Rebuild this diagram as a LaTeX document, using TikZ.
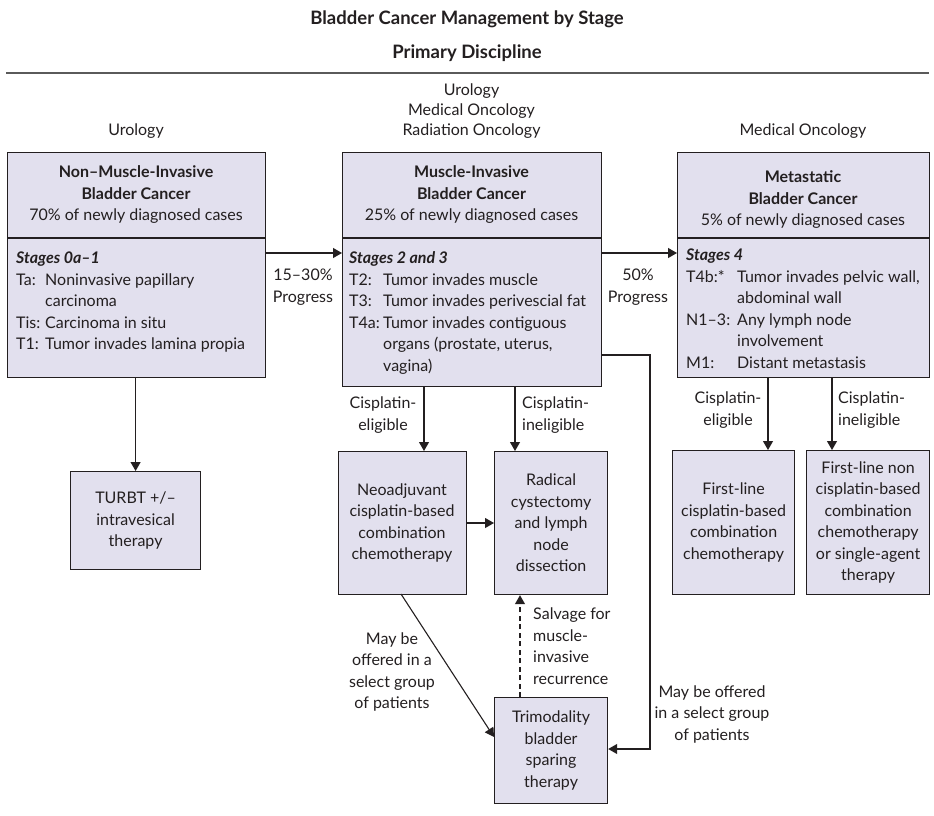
\documentclass[tikz,border=0pt]{standalone}
\usepackage{fontspec}
\setmainfont{Lato}
\usetikzlibrary{arrows.meta}
\definecolor{boxfill}{RGB}{226,224,238}
\definecolor{ink}{RGB}{35,31,32}
\definecolor{rulegray}{RGB}{90,90,90}
\newcommand{\bodyfont}{\fontsize{16}{21.5}\selectfont}
\newcommand{\headfont}{\fontsize{18.5}{21}\selectfont\bfseries}
\tikzset{
  txt/.style={inner sep=0pt, text=ink, font=\bodyfont, align=center},
  ltxt/.style={inner sep=0pt, text=ink, font=\bodyfont, align=left},
  panel/.style={draw=ink, line width=1.2pt, fill=boxfill, inner sep=0pt, anchor=north west},
  conn/.style={draw=ink, line width=1.1pt},
  arr/.style={conn, -{Triangle[length=9pt,width=10pt]}},
}
\begin{document}
\begin{tikzpicture}[x=1pt,y=-1pt]
\useasboundingbox (0,0) rectangle (934,816);

% heading and discipline row
\node[txt, font=\headfont] (title) at (467,19) {Bladder Cancer Management by Stage};
\node[txt, font=\headfont] (disc) at (467,53) {Primary Discipline};
\draw[rulegray, line width=1.5pt] (6,73) -- (929,73);
\node[txt] (uro1) at (136,131) {Urology};
\node[txt, font=\fontsize{16}{20}\selectfont] (uro2) at (471.5,111) {Urology\\Medical Oncology\\Radiation Oncology};
\node[txt] (medonc) at (803,131) {Medical Oncology};

% three stage panels
\node[panel, minimum width=258, minimum height=225] (nmibc) at (7,152) {};
\node[panel, minimum width=259, minimum height=234] (mibc) at (342,152) {};
\node[panel, minimum width=252, minimum height=225] (met) at (677,152) {};
\draw[ink, line width=1.2pt] (nmibc.west |- 0,238) -- (nmibc.east |- 0,238);
\draw[ink, line width=1.2pt] (mibc.west |- 0,238) -- (mibc.east |- 0,238);
\draw[ink, line width=1.2pt] (met.west |- 0,238) -- (met.east |- 0,238);

\node[txt] (nmibch) at (136,195) {\textbf{Non–Muscle-Invasive}\\\textbf{Bladder Cancer}\\70\% of newly diagnosed cases};
\node[txt] (mibch) at (471.5,195) {\textbf{Muscle-Invasive}\\\textbf{Bladder Cancer}\\25\% of newly diagnosed cases};
\node[txt] (meth) at (803,200) {\textbf{Metastatic}\\\textbf{Bladder Cancer}\\5\% of newly diagnosed cases};

\node[ltxt, anchor=north west] (nmibcs) at (16,248.5) {%
\begin{tabular}{@{}p{29pt}@{}l@{}}
\multicolumn{2}{@{}l@{}}{\textbf{\itshape Stages 0a–1}}\\
Ta: & Noninvasive papillary\\
 & carcinoma\\
Tis: & Carcinoma in situ\\
T1: & Tumor invades lamina propia
\end{tabular}};
\node[ltxt, anchor=north west] (mibcs) at (349,248.5) {%
\begin{tabular}{@{}p{34pt}@{}l@{}}
\multicolumn{2}{@{}l@{}}{\textbf{\itshape Stages 2 and 3}}\\
T2: & Tumor invades muscle\\
T3: & Tumor invades perivescial fat\\
T4a: & Tumor invades contiguous\\
 & organs (prostate, uterus,\\
 & vagina)
\end{tabular}};
\node[ltxt, anchor=north west] (mets) at (686,245.5) {%
\begin{tabular}{@{}p{51pt}@{}l@{}}
\multicolumn{2}{@{}l@{}}{\textbf{\itshape Stages 4}}\\
T4b:* & Tumor invades pelvic wall,\\
 & abdominal wall\\
N1–3: & Any lymph node\\
 & involvement\\
M1: & Distant metastasis
\end{tabular}};

% progression arrows
\draw[arr] (nmibc.east |- 0,253) -- (mibc.west |- 0,253);
\node[txt] (prog1) at (303,287) {15–30\%\\Progress};
\draw[arr] (mibc.east |- 0,253) -- (met.west |- 0,253);
\node[txt] (prog2) at (638,287) {50\%\\Progress};

% treatment boxes
\node[panel, minimum width=130, minimum height=98] (turbt) at (70,471) {};
\node[txt] (turbtt) at (turbt.center) {TURBT +/–\\intravesical\\therapy};
\node[panel, minimum width=128, minimum height=143] (neo) at (338,451) {};
\node[txt] (neot) at (402,523) {Neoadjuvant\\cisplatin-based\\combination\\chemotherapy};
\node[panel, minimum width=113, minimum height=143] (rad) at (494,451) {};
\node[txt] (radt) at (rad.center) {Radical\\cystectomy\\and lymph\\node\\dissection};
\node[panel, minimum width=113, minimum height=106] (tri) at (494,697) {};
\node[txt] (trit) at (tri.center) {Trimodality\\bladder\\sparing\\therapy};
\node[panel, minimum width=122, minimum height=144] (fl) at (672,450) {};
\node[txt] (flt) at (fl.center) {First-line\\cisplatin-based\\combination\\chemotherapy};
\node[panel, minimum width=123, minimum height=144] (fln) at (806,450) {};
\node[txt] (flnt) at (fln.center) {First-line non\\cisplatin-based\\combination\\chemotherapy\\or single-agent\\therapy};

% connectors
\draw[arr] (nmibc.south -| turbt.north) -- (turbt.north);
\draw[arr] (mibc.south -| 424,0) -- (neo.north -| 424,0);
\node[txt] (elig1) at (383,415) {Cisplatin-\\eligible};
\draw[arr] (mibc.south -| 515,0) -- (rad.north -| 515,0);
\node[ltxt, anchor=west] (inel1) at (522,415) {Cisplatin-\\ineligible};
\draw[arr] (neo.east |- 0,523) -- (rad.west |- 0,523);
\draw[arr, dashed, dash pattern=on 5pt off 3.5pt] (tri.north -| 520,0) -- (rad.south -| 520,0);
\node[ltxt, anchor=west] (salv) at (533,646) {Salvage for\\muscle-\\invasive\\recurrence};
\coordinate (neoout) at (401,594);
\draw[arr] (neoout) -- (tri.west |- 0,737);
\node[txt] (may1) at (392,672) {May be\\offered in a\\select group\\of patients};
\coordinate (mibcout) at (mibc.east |- 0,355);
\coordinate (bendtop) at (650,355);
\coordinate (bendbot) at (650,749);
\draw[arr] (mibcout) -- (bendtop) -- (bendbot) -- (tri.east |- bendbot);
\node[txt] (may2) at (712,714) {May be offered\\in a select group\\of patients};
\draw[arr] (met.south -| 768,0) -- (fl.north -| 768,0);
\node[txt] (elig2) at (728,410) {Cisplatin-\\eligible};
\draw[arr] (met.south -| 832,0) -- (fln.north -| 832,0);
\node[ltxt, anchor=west] (inel2) at (838,410) {Cisplatin-\\ineligible};
\end{tikzpicture}
\end{document}
